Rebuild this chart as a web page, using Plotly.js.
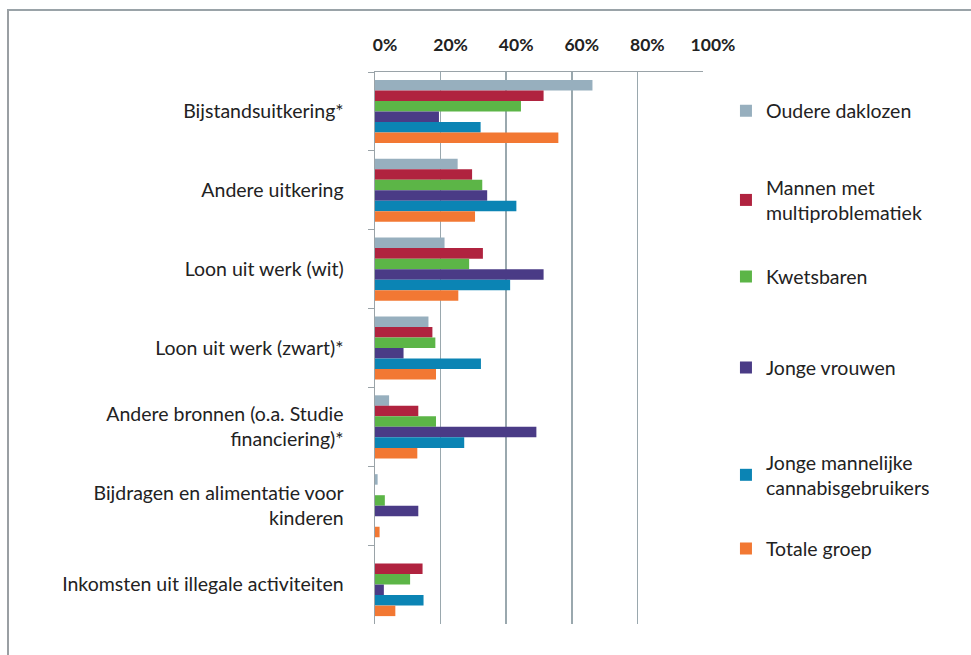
<!DOCTYPE html>
<html>
<head>
<meta charset="utf-8">
<script src="https://cdn.plot.ly/plotly-3.0.1.min.js"></script>
<style>
  html, body { margin: 0; padding: 0; background: #fff; }
  #wrap { position: relative; width: 971px; height: 655px; overflow: hidden; }
  #chart { position: absolute; left: 0; top: 0; width: 971px; height: 655px; }
  #frame { position: absolute; left: 7px; top: 9px; width: 980px; height: 660px;
           border-left: 2px solid #9a9fa3; border-top: 2px solid #9aa3a8; pointer-events: none; }
</style>
</head>
<body>
<div id="wrap">
  <div id="chart"></div>
  <div id="frame"></div>
</div>
<script>
const categories = [
  "Bijstandsuitkering*",
  "Andere uitkering",
  "Loon uit werk (wit)",
  "Loon uit werk (zwart)*",
  "Andere bronnen (o.a. Studie<br>financiering)*",
  "Bijdragen en alimentatie voor<br>kinderen",
  "Inkomsten uit illegale activiteiten"
];

const seriesNames = [
  "Oudere daklozen",
  "Mannen met<br>multiproblematiek",
  "Kwetsbaren",
  "Jonge vrouwen",
  "Jonge mannelijke<br>cannabisgebruikers",
  "Totale groep"
];

const oudereDaklozen   = [66.3, 25.2, 21.2, 16.3, 4.3, 0.8, 0];
const mannenMulti      = [51.4, 29.6, 32.9, 17.5, 13.2, 0, 14.5];
const kwetsbaren       = [44.5, 32.7, 28.7, 18.4, 18.6, 3.0, 10.7];
const jongeVrouwen     = [19.5, 34.2, 51.4, 8.7, 49.2, 13.2, 2.7];
const jongeMannelijke  = [32.2, 43.1, 41.2, 32.3, 27.2, 0, 14.8];
const totaleGroep      = [55.9, 30.5, 25.4, 18.6, 12.9, 1.4, 6.2];

const seriesValues = [oudereDaklozen, mannenMulti, kwetsbaren, jongeVrouwen, jongeMannelijke, totaleGroep];
const colors = ["#97AFBE", "#B0233F", "#5CB547", "#4A3B86", "#0B84B4", "#F27833"];

const xTickVals = [0, 20, 40, 60, 80, 100];

const legendIds = ["legend", "legend2", "legend3", "legend4", "legend5", "legend6"];
const legendY = [0.929, 0.768, 0.629, 0.464, 0.270, 0.136];

const traces = seriesNames.map((name, i) => ({
  type: "bar",
  orientation: "h",
  name: name,
  y: categories,
  x: seriesValues[i],
  legend: legendIds[i],
  marker: { color: colors[i], line: { width: 0 } },
  hoverinfo: "x+name"
}));

const font = "Lato, 'Open Sans', sans-serif";

const layout = {
  width: 971,
  height: 655,
  margin: { l: 375, r: 268, t: 72, b: 31 },
  paper_bgcolor: "#ffffff",
  plot_bgcolor: "#ffffff",
  barmode: "group",
  bargap: 0.2,
  bargroupgap: 0,
  font: { family: font, size: 19.5, color: "#222" },
  xaxis: {
    side: "top",
    range: [0, 100],
    tickvals: xTickVals,
    ticktext: xTickVals.map(v => v + "%"),
    showgrid: true,
    gridcolor: "#9aa8ae",
    gridwidth: 1.5,
    showline: true,
    linecolor: "#9aa3a8",
    linewidth: 1.5,
    zeroline: false,
    ticks: "",
    ticklabelstandoff: 13,
    ticklabelshift: 10,
    tickfont: { family: font, size: 17.5, color: "#222", weight: "bold" },
    fixedrange: true
  },
  yaxis: {
    type: "category",
    autorange: "reversed",
    showline: true,
    linecolor: "#9aa3a8",
    linewidth: 1.5,
    ticks: "outside",
    tickson: "boundaries",
    ticklen: 6,
    tickcolor: "#9aa3a8",
    ticklabelstandoff: 26,
    showgrid: false,
    zeroline: false,
    tickfont: { family: font, size: 19.5, color: "#222" },
    fixedrange: true
  },
  showlegend: true
};

legendIds.forEach((id, i) => {
  layout[id] = {
    x: 1.07,
    xanchor: "left",
    y: legendY[i],
    yanchor: "middle",
    itemwidth: 30,
    font: { family: font, size: 19.5, color: "#222" },
    bgcolor: "rgba(0,0,0,0)"
  };
});

Plotly.newPlot("chart", traces, layout, { displayModeBar: false, staticPlot: true });
</script>
</body>
</html>
